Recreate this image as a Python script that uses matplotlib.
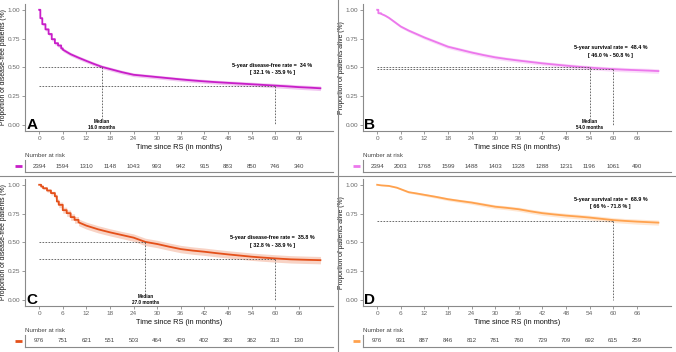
import numpy as np
import matplotlib
matplotlib.use("Agg")
import matplotlib.pyplot as plt
from matplotlib.lines import Line2D

plt.rcParams['font.family'] = ['Liberation Sans', 'DejaVu Sans']

# ---- data ----
risk_ticks = [0, 6, 12, 18, 24, 30, 36, 42, 48, 54, 60, 66]

# A: disease-free, cohort 1
a_t = [0, 0.3, 0.8, 1.6, 2.4, 3.2, 4.0, 4.8, 5.6, 6, 8, 10, 12, 14, 16, 18, 21, 24, 27, 30, 33, 36, 39, 42, 45, 48, 51, 54, 57, 60, 63, 66, 69, 71.5]
a_s = [1.0, 0.927, 0.875, 0.83, 0.79, 0.745, 0.71, 0.69, 0.665, 0.655, 0.615, 0.585, 0.557, 0.53, 0.505, 0.487, 0.46, 0.437, 0.427, 0.417, 0.407, 0.397, 0.388, 0.38, 0.373, 0.367, 0.361, 0.355, 0.349, 0.343, 0.337, 0.33, 0.325, 0.32]
a_ci = [0.0, 0.01, 0.012, 0.013, 0.014, 0.015, 0.015, 0.016, 0.016, 0.016, 0.016, 0.016, 0.016, 0.016, 0.016, 0.016, 0.016, 0.016, 0.016, 0.016, 0.016, 0.016, 0.017, 0.017, 0.017, 0.017, 0.018, 0.018, 0.018, 0.019, 0.019, 0.019, 0.02, 0.02]
a_risk = [2394, 1594, 1310, 1148, 1043, 993, 942, 915, 883, 850, 746, 340]

# B: overall survival, cohort 1
b_t = [0, 0.3, 1, 2, 3, 4, 5, 6, 8, 10, 12, 15, 18, 21, 24, 27, 30, 33, 36, 39, 42, 45, 48, 51, 54, 57, 60, 63, 66, 69, 71.5]
b_s = [1.0, 0.97, 0.965, 0.95, 0.93, 0.905, 0.88, 0.855, 0.82, 0.79, 0.76, 0.72, 0.68, 0.655, 0.63, 0.608, 0.588, 0.573, 0.56, 0.548, 0.536, 0.526, 0.516, 0.507, 0.499, 0.492, 0.486, 0.481, 0.477, 0.473, 0.469]
b_ci = [0.0, 0.007, 0.008, 0.009, 0.01, 0.011, 0.012, 0.012, 0.013, 0.014, 0.015, 0.016, 0.016, 0.016, 0.016, 0.016, 0.017, 0.017, 0.017, 0.017, 0.017, 0.017, 0.018, 0.018, 0.018, 0.018, 0.019, 0.019, 0.019, 0.02, 0.02]
b_risk = [2394, 2003, 1768, 1599, 1488, 1403, 1328, 1288, 1231, 1196, 1061, 490]

# C: disease-free, cohort 2
c_t = [0, 0.5, 1, 2, 3, 4, 4.5, 5, 6, 7, 8, 9, 10, 12, 15, 18, 21, 24, 27, 30, 33, 36, 39, 42, 45, 48, 51, 54, 57, 60, 64, 68, 71.5]
c_s = [1.0, 0.985, 0.97, 0.95, 0.928, 0.9, 0.855, 0.826, 0.78, 0.754, 0.72, 0.696, 0.675, 0.646, 0.614, 0.588, 0.565, 0.542, 0.505, 0.487, 0.464, 0.443, 0.43, 0.42, 0.408, 0.397, 0.387, 0.377, 0.369, 0.362, 0.354, 0.35, 0.347]
c_ci = [0.0, 0.008, 0.01, 0.014, 0.016, 0.019, 0.022, 0.024, 0.026, 0.027, 0.028, 0.029, 0.029, 0.03, 0.031, 0.031, 0.031, 0.032, 0.032, 0.032, 0.032, 0.032, 0.032, 0.032, 0.032, 0.032, 0.032, 0.032, 0.032, 0.032, 0.032, 0.032, 0.032]
c_risk = [976, 751, 621, 551, 503, 464, 429, 402, 383, 362, 313, 130]

# D: overall survival, cohort 2
d_t = [0, 1, 3, 5, 6, 8, 10, 12, 15, 18, 21, 24, 27, 30, 33, 36, 39, 42, 45, 48, 51, 54, 57, 60, 63, 66, 69, 71.5]
d_s = [1.0, 0.995, 0.99, 0.975, 0.962, 0.936, 0.925, 0.913, 0.895, 0.875, 0.86, 0.846, 0.828, 0.81, 0.8, 0.788, 0.77, 0.754, 0.743, 0.733, 0.725, 0.716, 0.705, 0.694, 0.687, 0.681, 0.676, 0.672]
d_ci = [0.0, 0.003, 0.004, 0.006, 0.007, 0.009, 0.01, 0.011, 0.012, 0.013, 0.014, 0.015, 0.016, 0.017, 0.017, 0.018, 0.018, 0.019, 0.019, 0.02, 0.02, 0.02, 0.021, 0.021, 0.021, 0.022, 0.022, 0.022]
d_risk = [976, 931, 887, 846, 812, 781, 760, 729, 709, 692, 615, 259]

panels = [
    dict(letter="A", t=a_t, s=a_s, ci=a_ci, risk=a_risk, color="#C81EC8", step_until=6,
         ylabel="Proportion of disease-free patients (%)",
         medians=[(16, 0.5, "Median\n16.0 months")], fiveyr=0.343,
         txt=["5-year disease-free rate =  34 %", "[ 32.1 % - 35.9 % ]"], txty=(0.52, 0.455),
         box=(25, 4, 333, 131), rbox=(25, 160, 333, 172), nar_y=155),
    dict(letter="B", t=b_t, s=b_s, ci=b_ci, risk=b_risk, color="#EC78EC", step_until=1,
         ylabel="Proportion of patients alive (%)",
         medians=[(54, 0.5, "Median\n54.0 months")], fiveyr=0.484,
         txt=["5-year survival rate =  48.4 %", "[ 46.0 % - 50.8 % ]"], txty=(0.672, 0.606),
         box=(363, 4, 671, 131), rbox=(363, 160, 671, 172), nar_y=155),
    dict(letter="C", t=c_t, s=c_s, ci=c_ci, risk=c_risk, color="#E4501A", step_until=10,
         ylabel="Proportion of disease-free patients (%)",
         medians=[(27, 0.5, "Median\n27.0 months")], fiveyr=0.358,
         txt=["5-year disease-free rate =  35.8 %", "[ 32.8 % - 38.9 % ]"], txty=(0.542, 0.475),
         box=(25, 179, 333, 306), rbox=(25, 335, 333, 347), nar_y=330),
    dict(letter="D", t=d_t, s=d_s, ci=d_ci, risk=d_risk, color="#FFA24E", step_until=0,
         ylabel="Proportion of patients alive (%)",
         medians=[], fiveyr=0.689,
         txt=["5-year survival rate =  68.9 %", "[ 66 % - 71.8 % ]"], txty=(0.875, 0.809),
         box=(363, 179, 671, 306), rbox=(363, 335, 671, 347), nar_y=330),
]

W, H = 676, 352
fig = plt.figure(figsize=(W / 100, H / 100), dpi=100)
fig.patch.set_facecolor("white")

XLIM = (-3.6, 74.7)
grey = "#8a8a8a"
dot = dict(color="#555555", lw=0.6, ls=(0, (2, 1.6)))


def px_axes(x0, y0, x1, y1):
    return fig.add_axes([x0 / W, 1 - y1 / H, (x1 - x0) / W, (y1 - y0) / H])


def km_path(t, v, until):
    # stairs for the early, sparse part; plain segments afterwards
    xs, ys = [t[0]], [v[0]]
    for i in range(1, len(t)):
        if t[i] <= until:
            xs.append(t[i]); ys.append(v[i - 1])
        xs.append(t[i]); ys.append(v[i])
    return np.array(xs), np.array(ys)


for p in panels:
    ax = px_axes(*p["box"])
    t = np.array(p["t"])
    s = np.array(p["s"])
    ci = np.array(p["ci"])
    x, y = km_path(t, s, p["step_until"])
    _, lo = km_path(t, s - ci, p["step_until"])
    _, hi = km_path(t, np.minimum(s + ci, 1), p["step_until"])
    ax.fill_between(x, lo, hi, color=p["color"], alpha=0.25, lw=0)
    ax.plot(x, y, color=p["color"], lw=1.3)

    # median lines
    for mx, my, lab in p["medians"]:
        ax.plot([0, mx], [my, my], **dot)
        ax.plot([mx, mx], [my, 0.05], **dot)
        ax.text(mx, 0.005, lab, ha="center", va="center", fontsize=3.3, fontweight="bold", linespacing=1.1)
    # 5-year lines
    ax.plot([0, 60], [p["fiveyr"], p["fiveyr"]], **dot)
    ax.plot([60, 60], [p["fiveyr"], 0], **dot)
    ax.text(59.3, p["txty"][0], p["txt"][0], ha="center", va="center", fontsize=3.9, fontweight="bold")
    ax.text(59.3, p["txty"][1], p["txt"][1], ha="center", va="center", fontsize=3.9, fontweight="bold")

    ax.text(-1.9, 0.0, p["letter"], ha="center", va="center", fontsize=11, fontweight="bold")

    ax.set_xlim(*XLIM)
    ax.set_ylim(-0.05, 1.05)
    ax.set_xticks(risk_ticks)
    ax.set_yticks([0, 0.25, 0.5, 0.75, 1.0])
    ax.set_yticklabels(["0.00", "0.25", "0.50", "0.75", "1.00"])
    for sp in ["top", "right"]:
        ax.spines[sp].set_visible(False)
    for sp in ["left", "bottom"]:
        ax.spines[sp].set_color(grey)
        ax.spines[sp].set_linewidth(0.8)
    ax.tick_params(labelsize=4.6, colors=grey, length=2, width=0.6, pad=1.5, labelcolor="#666666")
    ax.set_ylabel(p["ylabel"], fontsize=4.9, color="#111111")
    ax.yaxis.set_label_coords(-0.058, 0.5)
    ax.set_xlabel("Time since RS (in months)", fontsize=5.3, color="#111111")
    ax.xaxis.set_label_coords(0.5, -0.10)
    ax.patch.set_alpha(0)

    # risk table
    rx = px_axes(*p["rbox"])
    rx.set_xlim(*XLIM)
    rx.set_ylim(0, 1)
    for tk, n in zip(risk_ticks, p["risk"]):
        rx.text(tk, 0.5, str(n), ha="center", va="center", fontsize=4.4, color="#444444")
    rx.plot([-6.2, -4.4], [0.5, 0.5], color=p["color"], lw=2, clip_on=False, solid_capstyle="butt")
    rx.set_xticks([])
    rx.set_yticks([])
    for sp in ["top", "right"]:
        rx.spines[sp].set_visible(False)
    for sp in ["left", "bottom"]:
        rx.spines[sp].set_color(grey)
        rx.spines[sp].set_linewidth(0.8)
    rx.patch.set_alpha(0)
    fig.text(p["rbox"][0] / W, 1 - p["nar_y"] / H, "Number at risk", fontsize=4.4, color="#444444",
             ha="left", va="center")

# panel separators
fig.add_artist(Line2D([0, 1], [1 - 176 / H, 1 - 176 / H], color=grey, lw=0.8))
fig.add_artist(Line2D([338 / W, 338 / W], [0, 1], color=grey, lw=0.8))

fig.savefig("out.png", dpi=100)
